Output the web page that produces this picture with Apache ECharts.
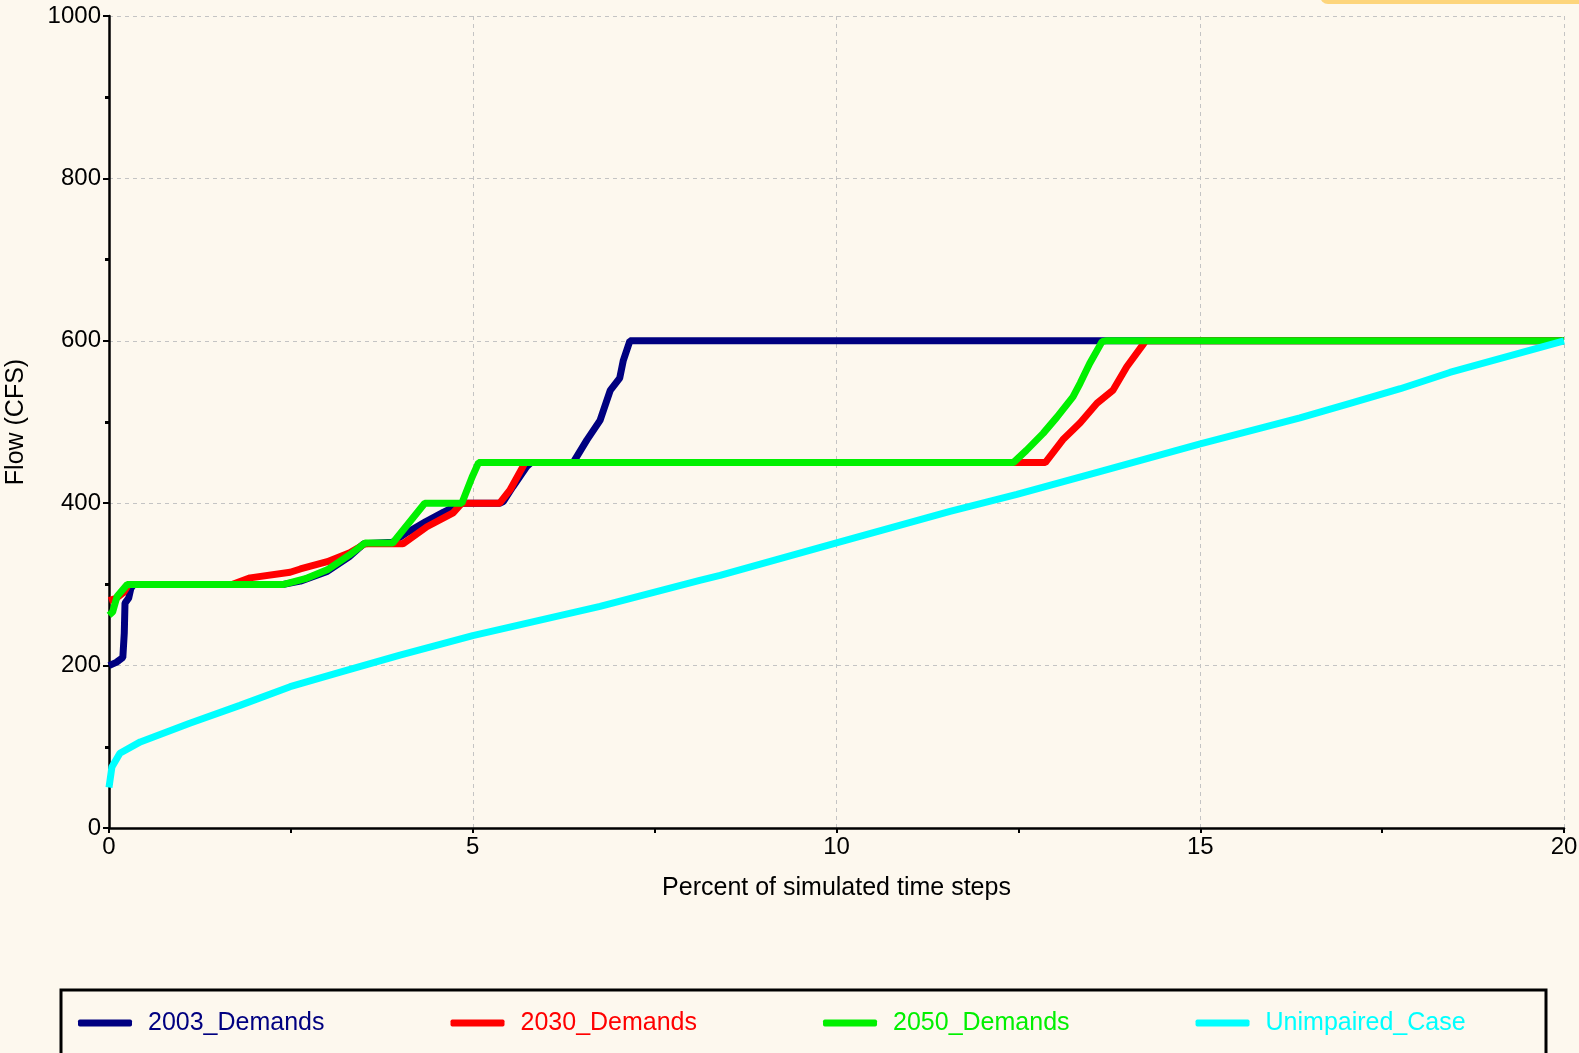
<!DOCTYPE html>
<html>
<head>
<meta charset="utf-8">
<title>Flow exceedance</title>
<script src="https://cdn.jsdelivr.net/npm/echarts@6/dist/echarts.min.js"></script>
<style>
  html, body { margin: 0; padding: 0; background: #fdf8ee; }
  #chart { width: 1579px; height: 1053px; }
</style>
</head>
<body>
<div id="chart"></div>
<script>
// Percent of simulated time steps vs flow (CFS), one curve per demand scenario
const seriesNames = ['2003_Demands', '2030_Demands', '2050_Demands', 'Unimpaired_Case'];
const seriesColors = ['#000080', '#ff0000', '#00f000', '#00ffff'];

const demands2003 = [
  [0, 200], [0.1, 204], [0.19, 210], [0.21, 240], [0.22, 277], [0.27, 283], [0.3, 295], [0.34, 300],
  [2.4, 300], [2.63, 304], [3.0, 316], [3.3, 334], [3.5, 350], [3.9, 352], [4.1, 364], [4.35, 377],
  [4.6, 389], [4.85, 400], [5.37, 400], [5.42, 402], [5.55, 420], [5.74, 445], [5.8, 450],
  [6.38, 450], [6.57, 478], [6.75, 502], [6.89, 539], [7.02, 554], [7.07, 576], [7.16, 600],
  [20, 600]
];

const demands2030 = [
  [0, 280], [0.1, 283], [0.2, 290], [0.27, 300],
  [1.7, 300], [1.94, 308], [2.49, 315], [2.63, 319], [3.0, 328], [3.31, 339], [3.52, 350],
  [4.04, 350], [4.37, 371], [4.73, 388], [4.85, 400], [5.37, 400], [5.51, 416], [5.72, 450],
  [12.87, 450], [13.11, 478], [13.35, 499], [13.58, 523], [13.8, 539], [13.99, 568], [14.21, 595], [14.25, 600],
  [20, 600]
];

const demands2050 = [
  [0, 262], [0.05, 266], [0.11, 285], [0.25, 300],
  [2.4, 300], [2.7, 307], [3.0, 318], [3.3, 336], [3.52, 351], [3.9, 351], [4.34, 400],
  [4.85, 400], [4.99, 432], [5.08, 450],
  [12.43, 450], [12.61, 465], [12.84, 486], [13.03, 506], [13.25, 531], [13.35, 548], [13.48, 572], [13.65, 599], [13.7, 600],
  [20, 600]
];

const unimpaired = [
  [0, 50], [0.04, 75], [0.15, 92], [0.43, 106], [1.11, 129], [1.8, 151], [2.49, 174], [3.18, 192],
  [4.0, 213], [5.0, 237], [6.75, 273], [8.12, 305], [8.4, 311], [10.0, 351], [11.56, 390], [12.48, 411],
  [13.62, 439], [15.0, 473], [16.37, 505], [17.06, 523], [17.75, 541], [18.43, 561], [20, 600]
];

const seriesData = [demands2003, demands2030, demands2050, unimpaired];

const xAxisTitle = 'Percent of simulated time steps';
const yAxisTitle = 'Flow (CFS)';

const font = '"Liberation Sans", Arial, sans-serif';

const chart = echarts.init(document.getElementById('chart'), null, { renderer: 'canvas' });

chart.setOption({
  backgroundColor: '#fdf8ee',
  animation: false,
  grid: { left: 109, right: 15, top: 16, bottom: 225, containLabel: false, outerBoundsMode: 'none' },
  xAxis: {
    type: 'value',
    min: 0, max: 20, interval: 5,
    name: xAxisTitle,
    nameLocation: 'middle',
    nameGap: 48,
    nameTextStyle: { color: '#000', fontSize: 25, fontFamily: font },
    axisLine: { show: true, lineStyle: { color: '#000', width: 2.5 } },
    axisTick: { show: true, length: 5, lineStyle: { color: '#000', width: 2 } },
    minorTick: { show: true, splitNumber: 2, length: 5, lineStyle: { color: '#000', width: 2 } },
    axisLabel: { color: '#000', fontSize: 24, fontFamily: font, margin: 7, formatter: v => String(v) },
    splitLine: { show: true, lineStyle: { color: '#c4c4c4', width: 1, type: [4, 4] } }
  },
  yAxis: {
    type: 'value',
    min: 0, max: 1000, interval: 200,
    name: yAxisTitle,
    nameLocation: 'middle',
    nameGap: 80,
    nameTextStyle: { color: '#000', fontSize: 25, fontFamily: font },
    axisLine: { show: true, lineStyle: { color: '#000', width: 2.5 } },
    axisTick: { show: true, length: 6, lineStyle: { color: '#000', width: 2 } },
    minorTick: { show: true, splitNumber: 2, length: 4, lineStyle: { color: '#000', width: 3 } },
    axisLabel: { color: '#000', fontSize: 24, fontFamily: font, margin: 8, formatter: v => String(v) },
    splitLine: { show: true, lineStyle: { color: '#c4c4c4', width: 1, type: [4, 4] } }
  },
  legend: {
    left: 78,
    top: 1009,
    padding: 0,
    itemWidth: 54,
    itemHeight: 7,
    itemGap: 126,
    icon: 'roundRect',
    textStyle: { fontSize: 25, fontFamily: font, lineHeight: 28, padding: [0, 0, 0, 11] },
    data: seriesNames.map((n, i) => ({ name: n, textStyle: { color: seriesColors[i] } }))
  },
  graphic: [
    {
      type: 'rect',
      shape: { x: 61, y: 990, width: 1485, height: 80 },
      style: { fill: 'none', stroke: '#000', lineWidth: 3 },
      silent: true
    },
    {
      type: 'rect',
      shape: { x: 1320, y: -12, width: 290, height: 16, r: 8 },
      style: { fill: '#fdd57c' },
      silent: true
    }
  ],
  series: seriesNames.map((n, i) => ({
    name: n,
    type: 'line',
    data: seriesData[i],
    showSymbol: false,
    symbol: 'none',
    color: seriesColors[i],
    lineStyle: { color: seriesColors[i], width: 7 },
    z: 2 + i
  }))
});
</script>
</body>
</html>
